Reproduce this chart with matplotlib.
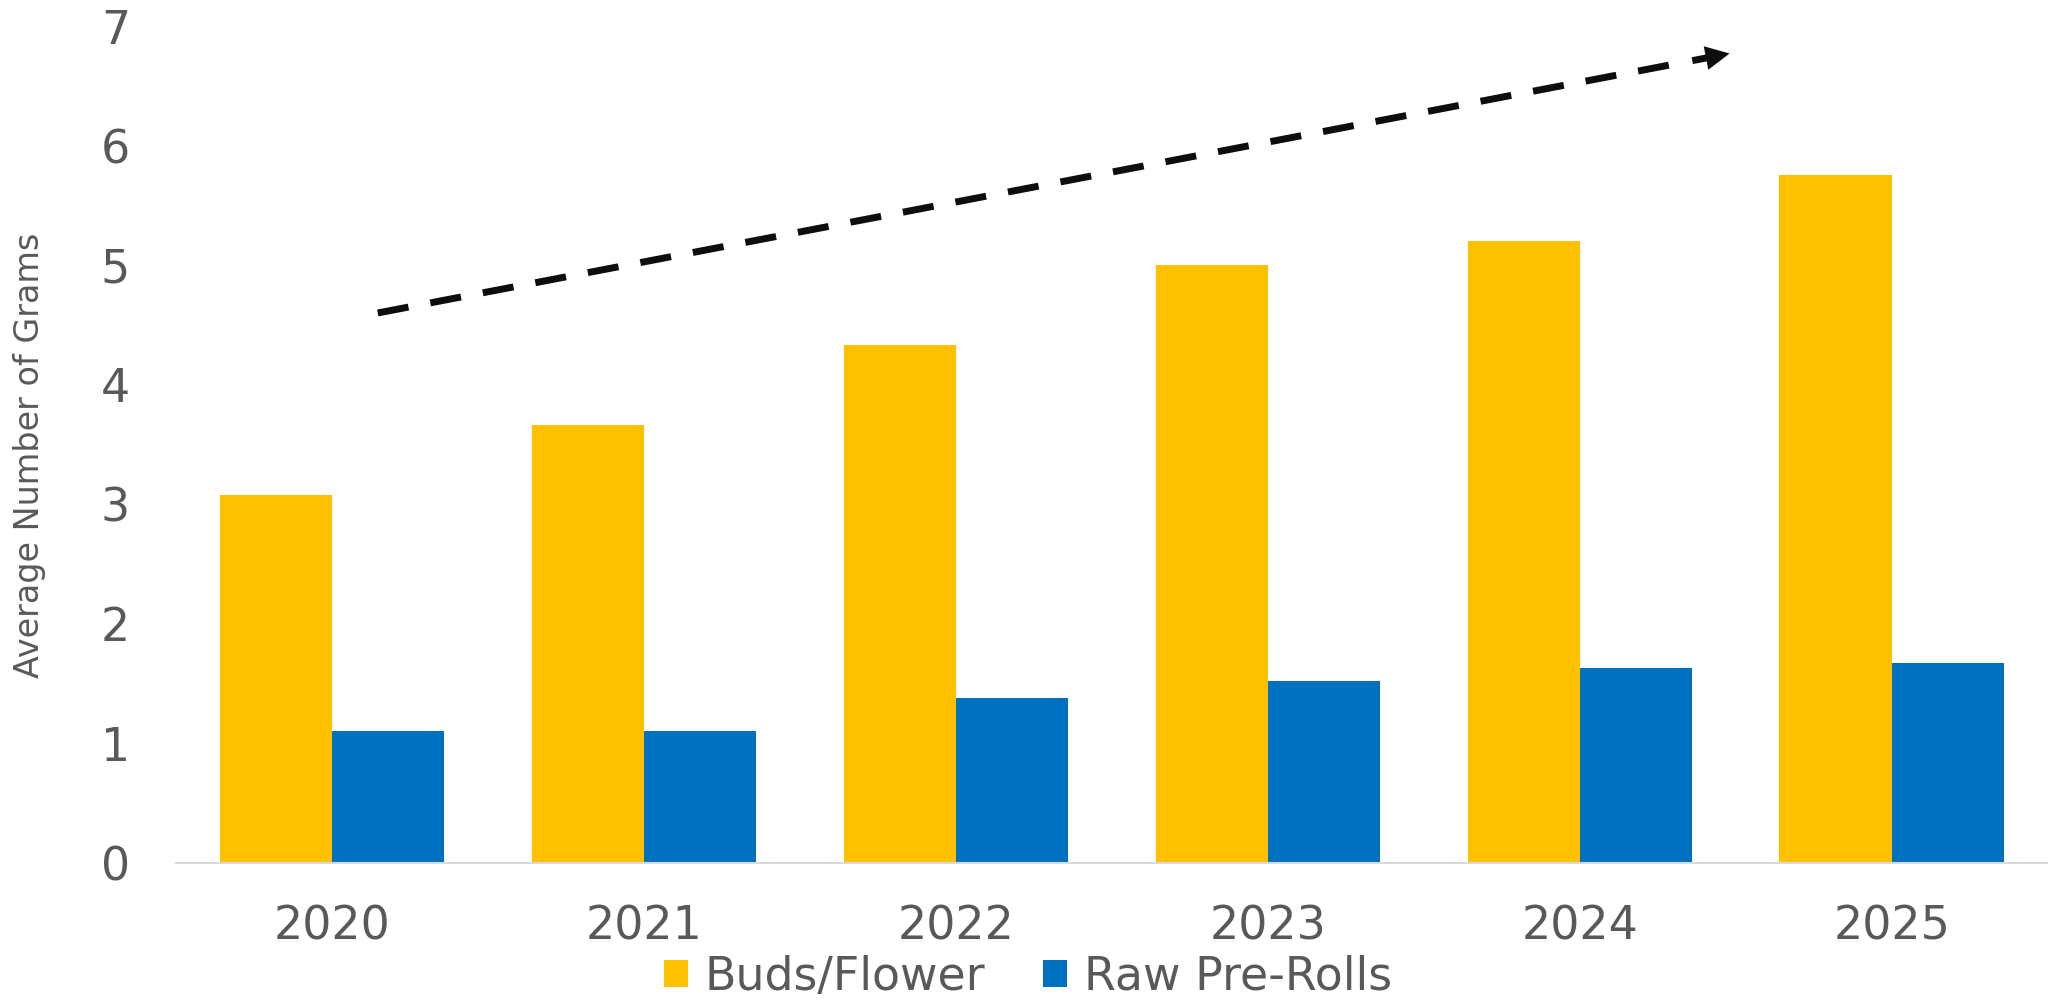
import numpy as np
import matplotlib
matplotlib.use("Agg")
import matplotlib.pyplot as plt

# data
years = ['2020', '2021', '2022', '2023', '2024', '2025']
buds_flower = [3.08, 3.66, 4.33, 5.00, 5.20, 5.75]
raw_prerolls = [1.10, 1.10, 1.38, 1.52, 1.63, 1.67]
series_names = ['Buds/Flower', 'Raw Pre-Rolls']
y_label = 'Average Number of Grams'

# trend arrow (data coords): start of dashes, tip of head
trend_start = (0.147, 4.60)
trend_tip = (4.48, 6.77)

yellow = '#FFC000'
blue = '#0070C0'
grey_text = '#595959'
arrow_col = '#0D0D0D'

plt.rcParams['font.family'] = ['DejaVu Sans']

fig = plt.figure(figsize=(20.48, 10), dpi=100)
ax = fig.add_axes([0.0859, 0.137, 0.914, 0.837])

x = np.arange(len(years))
width = 0.36
b1 = ax.bar(x - width/2, buds_flower, width, color=yellow, label=series_names[0])
b2 = ax.bar(x + width/2, raw_prerolls, width, color=blue, label=series_names[1])

ax.set_xlim(-0.5, len(years) - 0.5)
ax.set_ylim(0, 7)
ax.set_yticks(range(0, 8))
ax.set_xticks(x, years)

ax.spines[['top', 'right', 'left']].set_visible(False)
ax.spines['bottom'].set_color('#D9D9D9')
ax.spines['bottom'].set_linewidth(1.5)
ax.tick_params(axis='both', length=0, labelsize=33, labelcolor=grey_text)
ax.tick_params(axis='x', pad=30)
ax.tick_params(axis='y', pad=33)

ax.set_ylabel(y_label, fontsize=24, color=grey_text, va='center')
ax.yaxis.set_label_coords(-0.078, 0.4875)

# dashed trend line, short solid stub and a filled triangular head
to_px = ax.transData.transform
to_data = ax.transData.inverted().transform
p0 = to_px(trend_start)
p1 = to_px(trend_tip)
d = (p1 - p0) / np.hypot(*(p1 - p0))
n = np.array([-d[1], d[0]])
head_len, head_half = 24, 12  # px
base = p1 - d * head_len
stub0 = base - d * 14
dash_end = base - d * 30

ax.plot([trend_start[0], to_data(dash_end)[0]], [trend_start[1], to_data(dash_end)[1]],
        color=arrow_col, lw=5, linestyle=(0, (4.5, 3.2)), dash_capstyle='butt')
s0, s1 = to_data(stub0), to_data(base + d * 2)
ax.plot([s0[0], s1[0]], [s0[1], s1[1]], color=arrow_col, lw=5, solid_capstyle='butt')
head = np.array([to_data(p1), to_data(base + n * head_half), to_data(base - n * head_half)])
ax.fill(head[:, 0], head[:, 1], color=arrow_col, lw=0)

fig.legend(handles=[b1, b2], labels=series_names, loc='center',
           bbox_to_anchor=(0.502, 0.023), ncol=2, frameon=False,
           fontsize=33, labelcolor=grey_text, handlelength=0.52,
           handleheight=0.52, handletextpad=0.37, columnspacing=1.27,
           borderpad=0, borderaxespad=0)

plt.savefig('out.png', dpi=100)
